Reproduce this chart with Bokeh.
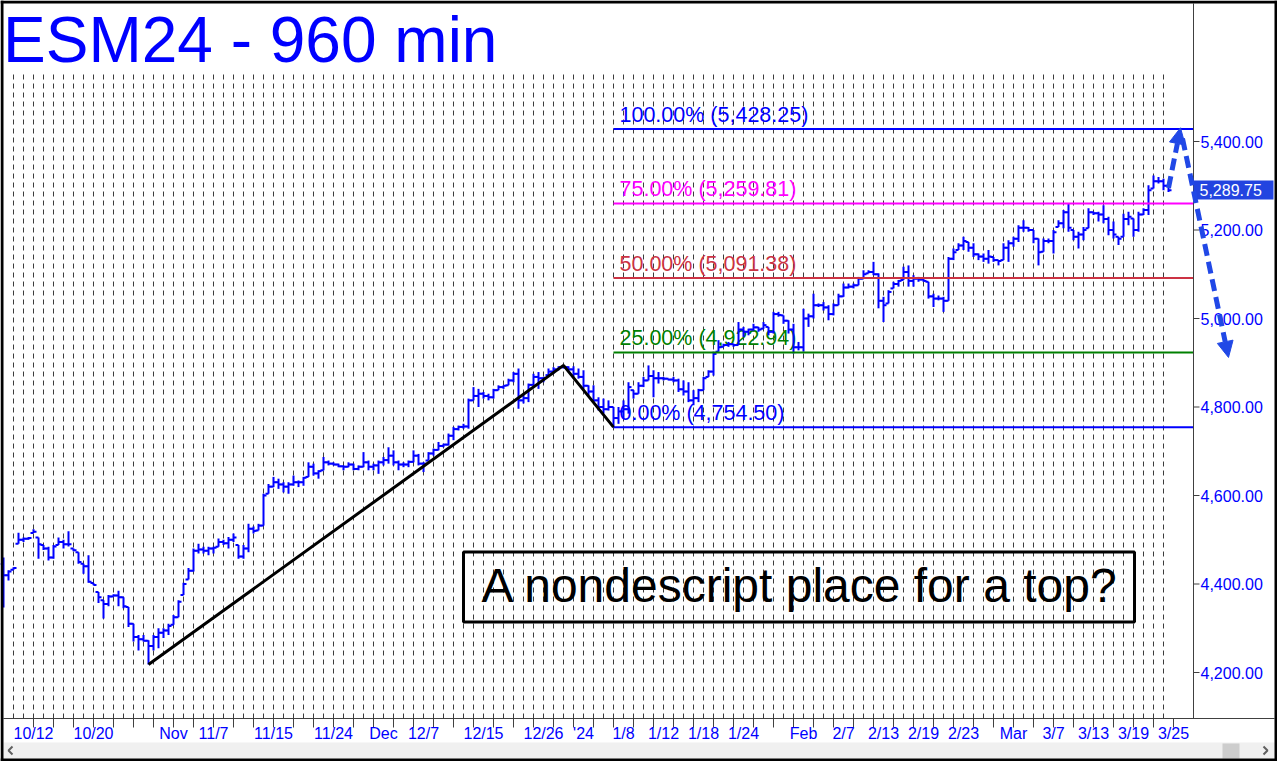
from bokeh.plotting import figure
from bokeh.models import Range1d, Arrow, NormalHead
from bokeh.core.properties import value
from bokeh.embed import file_html
from bokeh.resources import INLINE

# ---------------- data (ESM24, 960-min bars) ----------------
bar_lows = [
    4347, 4408, 4432, 4491, 4495, 4500, 4515, 4457, 4477, 4453,
    4457, 4488, 4480, 4485, 4474, 4446, 4423, 4403, 4397, 4357,
    4322, 4350, 4372, 4350, 4345, 4303, 4270, 4250, 4270, 4218,
    4250, 4255, 4278, 4285, 4308, 4325, 4375, 4410, 4428, 4469,
    4469, 4465, 4469, 4484, 4488, 4480, 4495, 4457, 4457, 4472,
    4514, 4521, 4532, 4604, 4619, 4615, 4607, 4604, 4622, 4619,
    4622, 4642, 4645, 4638, 4657, 4668, 4668, 4664, 4657, 4664,
    4657, 4657, 4664, 4657, 4657, 4649, 4668, 4672, 4668, 4657,
    4664, 4664, 4675, 4668, 4653, 4679, 4690, 4702, 4709, 4713,
    4725, 4747, 4751, 4751, 4815, 4800, 4819, 4815, 4819, 4838,
    4841, 4849, 4856, 4796, 4808, 4811, 4849, 4841, 4856, 4872,
    4875, 4883, 4887, 4883, 4868, 4864, 4841, 4826, 4811,
    4792, 4785, 4792, 4754.5, 4762, 4774, 4785, 4819, 4830, 4845,
    4860, 4822, 4853, 4860, 4860, 4856, 4834, 4826, 4811, 4804,
    4811, 4838, 4868, 4871, 4925, 4936, 4936, 4936, 4940, 4958,
    4962, 4973, 4970, 4977, 4962, 4966, 5004, 4988, 4966, 4921,
    4928, 4925, 4981, 5000, 5026, 5018, 4996, 5007, 5030, 5049,
    5068, 5068, 5075, 5090, 5102, 5098, 5023, 4992, 5034, 5068,
    5072, 5087, 5072, 5072, 5083, 5083, 5045, 5026, 5041, 5015,
    5040, 5132, 5155, 5155, 5151, 5139, 5132, 5128, 5124, 5128,
    5120, 5132, 5128, 5162, 5173, 5196, 5196, 5170, 5120, 5151,
    5170, 5147, 5207, 5204, 5196, 5177, 5158, 5177, 5204, 5234,
    5219, 5215, 5188, 5181, 5166, 5185, 5211, 5185, 5196, 5234,
    5234, 5294, 5305, 5290, 5286,
]
bar_highs = [
    4460, 4431, 4438, 4516, 4505, 4506, 4524, 4505, 4488, 4484,
    4488, 4505, 4500, 4519, 4480, 4472, 4446, 4465, 4402, 4382,
    4363, 4375, 4377, 4385, 4370, 4348, 4310, 4285, 4285, 4273,
    4285, 4300, 4300, 4310, 4330, 4363, 4403, 4436, 4480, 4491,
    4484, 4484, 4484, 4503, 4500, 4506, 4514, 4488, 4488, 4536,
    4530, 4536, 4604, 4626, 4642, 4638, 4630, 4630, 4645, 4634,
    4642, 4675, 4672, 4657, 4687, 4679, 4675, 4672, 4668, 4675,
    4672, 4668, 4698, 4679, 4672, 4679, 4687, 4709, 4702, 4679,
    4675, 4679, 4702, 4694, 4675, 4698, 4706, 4721, 4717, 4740,
    4755, 4758, 4762, 4819, 4845, 4841, 4834, 4830, 4841, 4849,
    4849, 4864, 4879, 4887, 4830, 4853, 4875, 4879, 4868, 4887,
    4890, 4892, 4894, 4892, 4892, 4887, 4883, 4849, 4849,
    4822, 4819, 4815, 4800, 4800, 4815, 4856, 4838, 4856, 4868,
    4894, 4883, 4879, 4868, 4864, 4868, 4864, 4860, 4856, 4838,
    4841, 4868, 4883, 4925, 4951, 4943, 4947, 4943, 4992, 4981,
    4977, 4988, 4981, 4992, 4981, 5015, 5015, 5007, 4996, 4988,
    4947, 5022, 5011, 5056, 5034, 5037, 5030, 5034, 5056, 5079,
    5079, 5079, 5094, 5109, 5109, 5128, 5102, 5049, 5064, 5083,
    5087, 5117, 5120, 5098, 5094, 5090, 5083, 5056, 5052, 5049,
    5139, 5158, 5170, 5185, 5173, 5170, 5147, 5147, 5155, 5139,
    5132, 5170, 5177, 5185, 5211, 5222, 5207, 5200, 5181, 5181,
    5181, 5200, 5222, 5245, 5260, 5200, 5196, 5207, 5249, 5241,
    5241, 5256, 5230, 5219, 5185, 5237, 5241, 5226, 5241, 5249,
    5301, 5323, 5320, 5316, 5301,
]
bar_closes = [
    4420, 4428, 4436, 4500, 4502, 4504, 4518, 4490, 4480, 4460,
    4485, 4495, 4490, 4490, 4476, 4450, 4440, 4405, 4398, 4370,
    4355, 4372, 4374, 4370, 4350, 4310, 4280, 4275, 4272, 4260,
    4280, 4290, 4295, 4305, 4325, 4360, 4400, 4430, 4475, 4478,
    4475, 4480, 4482, 4495, 4492, 4500, 4505, 4462, 4480, 4525,
    4520, 4532, 4600, 4620, 4630, 4625, 4620, 4625, 4630, 4630,
    4640, 4665, 4650, 4655, 4675, 4672, 4670, 4666, 4665, 4670,
    4660, 4665, 4675, 4665, 4668, 4675, 4680, 4690, 4675, 4670,
    4670, 4676, 4690, 4672, 4672, 4695, 4703, 4712, 4715, 4735,
    4750, 4755, 4756, 4815, 4825, 4830, 4825, 4822, 4838, 4845,
    4848, 4860, 4875, 4815, 4820, 4850, 4868, 4865, 4866, 4880,
    4885, 4890, 4890, 4885, 4875, 4868, 4848, 4835, 4815,
    4800, 4795, 4800, 4775, 4790, 4795, 4845, 4830, 4848, 4860,
    4870, 4865, 4865, 4864, 4862, 4860, 4840, 4835, 4815, 4820,
    4838, 4865, 4880, 4920, 4935, 4940, 4942, 4940, 4975, 4970,
    4975, 4980, 4975, 4985, 4970, 5010, 5008, 4995, 4975, 4935,
    4935, 5000, 5005, 5030, 5030, 5025, 5010, 5030, 5050, 5070,
    5072, 5075, 5090, 5100, 5105, 5100, 5040, 5030, 5060, 5078,
    5085, 5105, 5085, 5090, 5088, 5085, 5050, 5045, 5045, 5040,
    5135, 5150, 5165, 5175, 5160, 5145, 5140, 5135, 5140, 5132,
    5130, 5160, 5170, 5180, 5205, 5205, 5200, 5180, 5150, 5175,
    5175, 5195, 5215, 5240, 5205, 5185, 5190, 5200, 5240, 5238,
    5235, 5225, 5200, 5190, 5180, 5225, 5230, 5200, 5235, 5245,
    5290, 5310, 5310, 5300, 5289.75,
]
first_open = 4445

# date labels of the bottom axis and their bar positions
date_labels = ["10/12", "10/20", "Nov", "11/7", "11/15", "11/24", "Dec", "12/7",
               "12/15", "12/26", "'24", "1/8", "1/12", "1/18", "1/24", "Feb",
               "2/7", "2/13", "2/19", "2/23", "Mar", "3/7", "3/13", "3/19", "3/25"]
date_label_bars = [6, 18, 34, 42, 54, 66, 76, 84, 96, 108, 116, 124, 132, 140,
                   148, 160, 168, 176, 184, 192, 202, 210, 218, 226, 234]
date_tick_bars = list(range(6, 235, 4))
day_grid_bars = list(range(2, 233, 2))

price_ticks = [4200, 4400, 4600, 4800, 5000, 5200, 5400]

# Fibonacci projection
fib_pcts = [100.0, 75.0, 50.0, 25.0, 0.0]
fib_levels = [5428.25, 5259.81, 5091.38, 4922.94, 4754.50]
fib_colors = ["#0000FF", "#FF00FF", "#CC3344", "#008000", "#0000FF"]
fib_start_bar = 122

# A-B-C swing drawn in black
swing_bars = [29, 112, 122]
swing_prices = [4218, 4894, 4754.5]

# forecast arrows (bar, price)
arrow_up = [(233.0, 5295.0), (235.4, 5431.0)]
arrow_down = [(235.8, 5407.0), (245.0, 4912.0)]

last_price = 5289.75

# ---------------- layout helpers (reference pixel -> data) ----------------
W, H = 1277, 761

def bx(px):
    return (px - 3.0) / 5.0

def py(pix):
    return 5400.0 - (pix - 141.0) / 0.4425

def mid(baseline_px, font_px):
    # vertical centre of a text line whose baseline sits at baseline_px
    return baseline_px - 0.3465 * font_px

BLUE = "#0000FF"
ARROW = "#2148E6"
AXIS = "#404040"
FONT = "Liberation Sans"

p = figure(width=W, height=H, x_range=Range1d(bx(0), bx(W)),
           y_range=Range1d(py(H), py(0)), x_axis_location=None,
           y_axis_location=None, toolbar_location=None, output_backend="svg",
           min_border=0, min_border_left=0, min_border_right=0,
           min_border_top=0, min_border_bottom=0,
           background_fill_color="white", border_fill_color="white",
           outline_line_color=None)
p.xgrid.visible = False
p.ygrid.visible = False

# vertical dashed day grid
p.segment(x0=day_grid_bars, y0=py(74), x1=day_grid_bars, y1=py(718),
          line_color="#3c3c3c", line_width=1, line_dash="5 4")

# fib labels (under the bars)
fib_text = ["%.2f%% (%s)" % (pc, format(lv, ",.2f")) for pc, lv in zip(fib_pcts, fib_levels)]
p.text(x=[bx(619)] * len(fib_levels), y=fib_levels, text=fib_text,
       text_color=fib_colors, text_font=value(FONT), text_font_size="21.5px",
       text_baseline="middle", text_align="left",
       y_offset=-(7 + 0.3465 * 21.5))

# OHLC bars
n = len(bar_closes)
idx = list(range(n))
prev = [first_open] + bar_closes[:-1]
opens = [min(max(o, lo), hi) for o, lo, hi in zip(prev, bar_lows, bar_highs)]
p.segment(x0=idx, y0=bar_lows, x1=idx, y1=bar_highs, line_color=BLUE, line_width=2)
p.segment(x0=[i - 0.6 for i in idx], y0=opens, x1=idx, y1=opens,
          line_color=BLUE, line_width=2)
p.segment(x0=idx, y0=bar_closes, x1=[i + 0.6 for i in idx], y1=bar_closes,
          line_color=BLUE, line_width=2)

# fib lines
p.segment(x0=[fib_start_bar] * len(fib_levels), y0=fib_levels,
          x1=[bx(1193)] * len(fib_levels), y1=fib_levels,
          line_color=fib_colors, line_width=2)

# black swing line
p.line(x=swing_bars, y=swing_prices, line_color="black", line_width=3)

# comment box
p.quad(left=[bx(463)], right=[bx(1134)], top=[py(551.5)], bottom=[py(621.5)],
       fill_color=None, line_color="black", line_width=3)
p.text(x=[bx(481)], y=[py(mid(601.5, 48))], text=["A nondescript place for a top?"],
       text_font=value(FONT), text_font_size="48px", text_color="black",
       text_baseline="middle", text_align="left")

# title
p.text(x=[bx(2.5)], y=[py(mid(62, 64))], text=["ESM24 - 960 min"],
       text_font=value(FONT), text_font_size="64px", text_color=BLUE,
       text_baseline="middle", text_align="left")

# ---------------- right price axis ----------------
p.segment(x0=[bx(1193)], y0=[py(3)], x1=[bx(1193)], y1=[py(718)],
          line_color=AXIS, line_width=1)
p.segment(x0=[bx(1193)] * len(price_ticks), y0=price_ticks,
          x1=[bx(1199)] * len(price_ticks), y1=price_ticks,
          line_color=AXIS, line_width=1)
p.text(x=[bx(1200)] * len(price_ticks), y=price_ticks,
       text=[format(v, ",.2f") for v in price_ticks], text_font=value(FONT),
       text_font_size="16px", text_color=BLUE, text_baseline="middle",
       text_align="left")

# last price tag
p.quad(left=[bx(1193)], right=[bx(1273)], top=[py(180)], bottom=[py(199)],
       fill_color="#2244E0", line_color=None)
p.text(x=[bx(1199)], y=[last_price], text=[format(last_price, ",.2f")],
       text_font=value(FONT), text_font_size="16px", text_color="white",
       text_baseline="middle", text_align="left")

# ---------------- bottom date axis ----------------
p.segment(x0=[bx(3)], y0=[py(718)], x1=[bx(1274)], y1=[py(718)],
          line_color=AXIS, line_width=1)
p.segment(x0=date_tick_bars, y0=py(718), x1=date_tick_bars, y1=py(727),
          line_color=AXIS, line_width=1)
p.text(x=date_label_bars, y=py(mid(739, 16)), text=date_labels,
       text_font=value(FONT), text_font_size="16px", text_color=BLUE,
       text_baseline="middle", text_align="center")

# scrollbar strip and window frame
p.quad(left=[bx(3)], right=[bx(1274)], top=[py(742)], bottom=[py(758)],
       fill_color="#F0F0F0", line_color=None)
p.quad(left=[bx(1222)], right=[bx(1239)], top=[py(743)], bottom=[py(758)],
       fill_color="#CDCDCD", line_color=None)
p.line(x=[bx(12), bx(8), bx(12)], y=[py(746), py(750), py(754)],
       line_color="#606060", line_width=2)
p.line(x=[bx(1263), bx(1267), bx(1263)], y=[py(746), py(750), py(754)],
       line_color="#606060", line_width=2)
p.quad(left=[bx(0), bx(0), bx(1274), bx(0)], right=[bx(3), bx(W), bx(W), bx(W)],
       top=[py(0), py(0), py(0), py(758)], bottom=[py(H), py(3), py(H), py(H)],
       fill_color="black", line_color=None)

# forecast arrows
for (xs, ys), (xe, ye) in (arrow_up, arrow_down):
    p.add_layout(Arrow(x_start=xs, y_start=ys, x_end=xe, y_end=ye,
                       line_color=ARROW, line_width=5, line_dash="12 6",
                       end=NormalHead(size=16, fill_color=ARROW, line_color=ARROW,
                                      line_width=1)))

open("out.html", "w").write(file_html(p, INLINE))
